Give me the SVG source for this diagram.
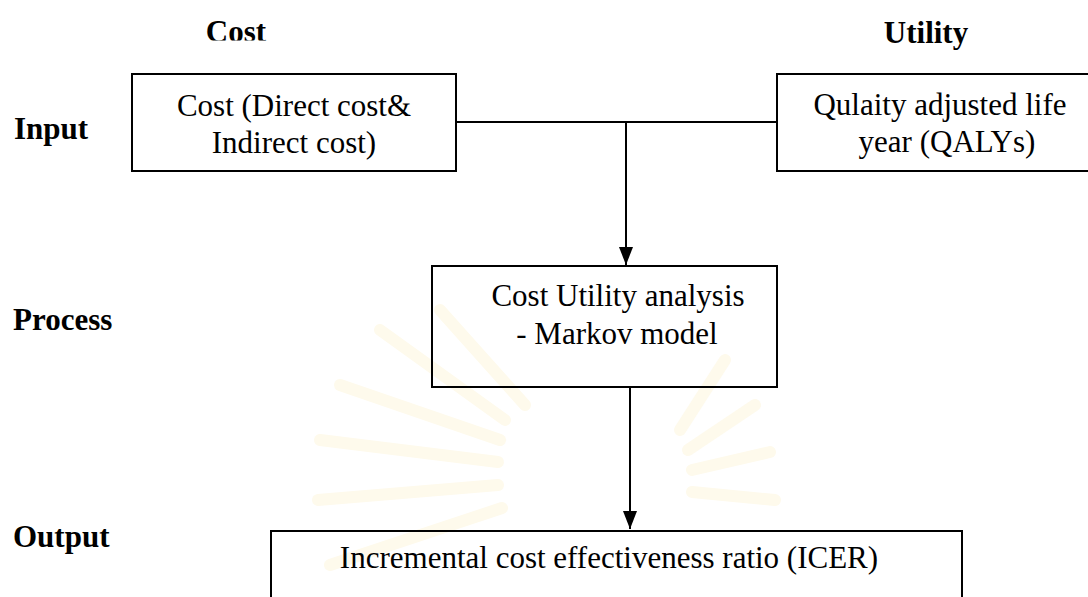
<svg xmlns="http://www.w3.org/2000/svg" width="1088" height="597" viewBox="0 0 1088 597">
<style>
.box{fill:none;stroke:#000;stroke-width:2}
.t{font-family:"Liberation Serif","Times New Roman",serif;font-size:31px;fill:#000;text-anchor:middle}
.b{font-family:"Liberation Serif","Times New Roman",serif;font-size:31px;font-weight:bold;fill:#000}
.c{fill:none;stroke:#000;stroke-width:2}
.ray{stroke:#fefaec;stroke-width:12;stroke-linecap:round}
</style>
<defs>
<marker id="ah" markerWidth="18" markerHeight="14" refX="18" refY="7" orient="auto" markerUnits="userSpaceOnUse" viewBox="0 0 18 14">
<path d="M0,0 L18,7 L0,14 Z" fill="#000"/>
</marker>
<clipPath id="clipCost"><rect x="0" y="0" width="400" height="40.5"/></clipPath>
</defs>
<rect width="1088" height="597" fill="#fff"/>
<g id="watermark">
<line class="ray" x1="505" y1="420" x2="380" y2="330"/>
<line class="ray" x1="500" y1="440" x2="340" y2="385"/>
<line class="ray" x1="498" y1="462" x2="320" y2="440"/>
<line class="ray" x1="498" y1="485" x2="318" y2="500"/>
<line class="ray" x1="502" y1="508" x2="330" y2="565"/>
<line class="ray" x1="525" y1="405" x2="440" y2="310"/>
<line class="ray" x1="680" y1="430" x2="725" y2="360"/>
<line class="ray" x1="688" y1="450" x2="755" y2="405"/>
<line class="ray" x1="692" y1="470" x2="770" y2="452"/>
<line class="ray" x1="692" y1="492" x2="775" y2="500"/>
</g>
<g id="connectors">
<line class="c" x1="456" y1="122" x2="777" y2="122"/>
<line class="c" x1="626" y1="122" x2="626" y2="265" marker-end="url(#ah)"/>
<line class="c" x1="630" y1="387" x2="630" y2="529" marker-end="url(#ah)"/>
</g>
<g id="label-cost-head"><text class="b" x="236" y="42" text-anchor="middle" clip-path="url(#clipCost)">Cost</text></g>
<g id="label-utility-head"><text class="b" x="926" y="43" text-anchor="middle">Utility</text></g>
<g id="label-input"><text class="b" x="14" y="139">Input</text></g>
<g id="label-process"><text class="b" x="13" y="330">Process</text></g>
<g id="label-output"><text class="b" x="13" y="547">Output</text></g>
<g id="node-cost">
<rect class="box" x="132" y="74" width="324" height="97"/>
<text class="t" x="294" y="116">Cost (Direct cost&amp;</text>
<text class="t" x="294" y="153">Indirect cost)</text>
</g>
<g id="node-utility">
<rect class="box" x="777" y="74" width="320" height="97"/>
<text class="t" x="940" y="115">Qulaity adjusted life</text>
<text class="t" x="947" y="152">year (QALYs)</text>
</g>
<g id="node-process">
<rect class="box" x="432" y="266" width="345" height="121"/>
<text class="t" x="618" y="306">Cost Utility analysis</text>
<text class="t" x="617" y="344">- Markov model</text>
</g>
<g id="node-output">
<rect class="box" x="271" y="531" width="691" height="80"/>
<text class="t" x="609" y="568">Incremental cost effectiveness ratio (ICER)</text>
</g>
</svg>
